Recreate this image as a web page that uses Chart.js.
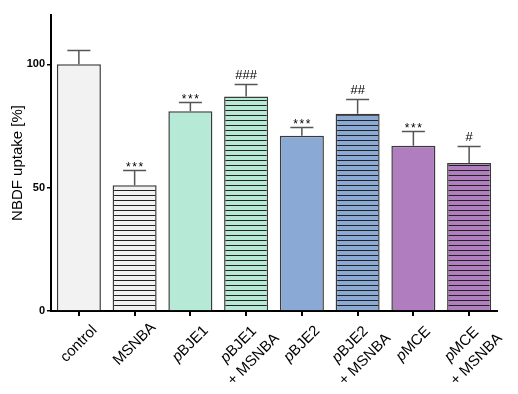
<!DOCTYPE html>
<html>
<head>
<meta charset="utf-8">
<script src="https://cdn.jsdelivr.net/npm/chart.js@4"></script>
<style>
  html, body { margin: 0; padding: 0; background: #fff; }
  #wrap { width: 518px; height: 394px; }
</style>
</head>
<body>
<div id="wrap"><canvas id="uptakeChart" width="518" height="394"></canvas></div>
<script>
/* ---- data ---- */
const labels = ["control", "MSNBA", "pBJE1", "pBJE1\n+ MSNBA", "pBJE2", "pBJE2\n+ MSNBA", "pMCE", "pMCE\n+ MSNBA"];
const values = [100, 51, 81, 87, 71, 80, 67, 60];
const errors = [6, 6, 3.7, 5, 3.5, 6, 6, 7];
const marks = ["", "***", "***", "###", "***", "##", "***", "#"];
const fills = ["#f2f2f2", "#f2f2f2", "#b6e9d6", "#b6e9d6", "#8aaad5", "#8aaad5", "#b07dbf", "#b07dbf"];
const hatched = [false, true, false, true, false, true, false, true];
const yTicks = [0, 50, 100];
const yTitle = "NBDF uptake [%]";

const FONT = "'Liberation Sans', Arial, sans-serif";

// horizontal line pattern for the "+ MSNBA" bars
function hatch(color) {
  const c = document.createElement("canvas");
  c.width = 4; c.height = 5;
  const g = c.getContext("2d");
  g.fillStyle = color;
  g.fillRect(0, 0, 4, 5);
  g.fillStyle = "#222";
  g.fillRect(0, 0, 4, 1);
  return g.createPattern(c, "repeat");
}

const ctx = document.getElementById("uptakeChart").getContext("2d");
const barFills = fills.map((f, i) => hatched[i] ? hatch(f) : f);

// error bars + significance marks
const errorBarPlugin = {
  id: "errorBars",
  afterDatasetsDraw(chart) {
    const c = chart.ctx;
    const y = chart.scales.y;
    const meta = chart.getDatasetMeta(0);
    c.save();
    meta.data.forEach((bar, i) => {
      const top = y.getPixelForValue(values[i]);
      const cap = Math.round(y.getPixelForValue(values[i] + errors[i])) + 0.5;
      c.strokeStyle = "#555";
      c.lineWidth = 1.5;
      c.beginPath();
      c.moveTo(bar.x, top);
      c.lineTo(bar.x, cap);
      c.moveTo(bar.x - 11.5, cap);
      c.lineTo(bar.x + 11.5, cap);
      c.stroke();
      if (marks[i]) {
        c.fillStyle = "#000";
        c.textAlign = "center";
        c.textBaseline = "alphabetic";
        if (marks[i][0] === "*") {
          c.font = "12px " + FONT;
          c.letterSpacing = "1.5px";
          c.fillText(marks[i], bar.x + 0.75, cap);
          c.letterSpacing = "0px";
        } else {
          c.font = "13px " + FONT;
          c.fillText(marks[i], bar.x, cap - 6);
        }
      }
    });
    c.restore();
  }
};

// rotated category labels with italic "p"
const labelPlugin = {
  id: "rotLabels",
  afterDraw(chart) {
    const c = chart.ctx;
    const x = chart.scales.x;
    const base = chart.chartArea.bottom;
    const lh = 21;
    c.save();
    c.fillStyle = "#000";
    c.textBaseline = "middle";
    c.textAlign = "left";
    labels.forEach((lab, i) => {
      const lines = lab.split("\n");
      const px = x.getPixelForTick(i);
      c.save();
      c.translate(px, base + (lines.length > 1 ? 41 : 33));
      c.rotate(-Math.PI / 4);
      lines.forEach((l, j) => {
        const ly = (j - (lines.length - 1) / 2) * lh;
        c.font = "15px " + FONT;
        if (l[0] === "p") {
          c.font = "italic 15px " + FONT;
          const pw = c.measureText("p").width;
          c.font = "15px " + FONT;
          const rw = c.measureText(l.slice(1)).width;
          const lx = -(pw + rw) / 2;
          c.font = "italic 15px " + FONT;
          c.fillText("p", lx, ly);
          c.font = "15px " + FONT;
          c.fillText(l.slice(1), lx + pw, ly);
        } else {
          const w = c.measureText(l).width;
          c.fillText(l, -w / 2, ly);
        }
      });
      c.restore();
    });
    // y axis title
    c.font = "15px " + FONT;
    c.textAlign = "center";
    c.translate(18, 163);
    c.rotate(-Math.PI / 2);
    c.fillText(yTitle, 0, 0);
    c.restore();
  }
};

new Chart(ctx, {
  type: "bar",
  data: {
    labels: labels,
    datasets: [{
      data: values,
      backgroundColor: barFills,
      borderColor: "#3a3a3a",
      borderWidth: 1.5,
      barPercentage: 0.79,
      categoryPercentage: 1
    }]
  },
  options: {
    responsive: false,
    animation: false,
    layout: { padding: { top: 15, right: 21, left: 0, bottom: 0 } },
    plugins: {
      legend: { display: false },
      tooltip: { enabled: false }
    },
    scales: {
      x: {
        offset: true,
        ticks: { display: false },
        grid: { offset: false, drawOnChartArea: false, drawTicks: true, tickLength: 5, color: "#000", lineWidth: 2 },
        border: { color: "#000", width: 2 },
        afterFit: s => { s.height = 83; }
      },
      y: {
        min: 0,
        max: 120,
        afterBuildTicks: s => { s.ticks = yTicks.map(v => ({ value: v })); },
        ticks: {
          includeBounds: false,
          color: "#000",
          padding: 2,
          font: { family: FONT, size: 11, weight: "bold" }
        },
        grid: { drawOnChartArea: false, drawTicks: true, tickLength: 4, color: "#000", lineWidth: 1.5 },
        border: { color: "#000", width: 2 },
        afterFit: s => { s.width = 51; }
      }
    }
  },
  plugins: [errorBarPlugin, labelPlugin]
});
</script>
</body>
</html>
